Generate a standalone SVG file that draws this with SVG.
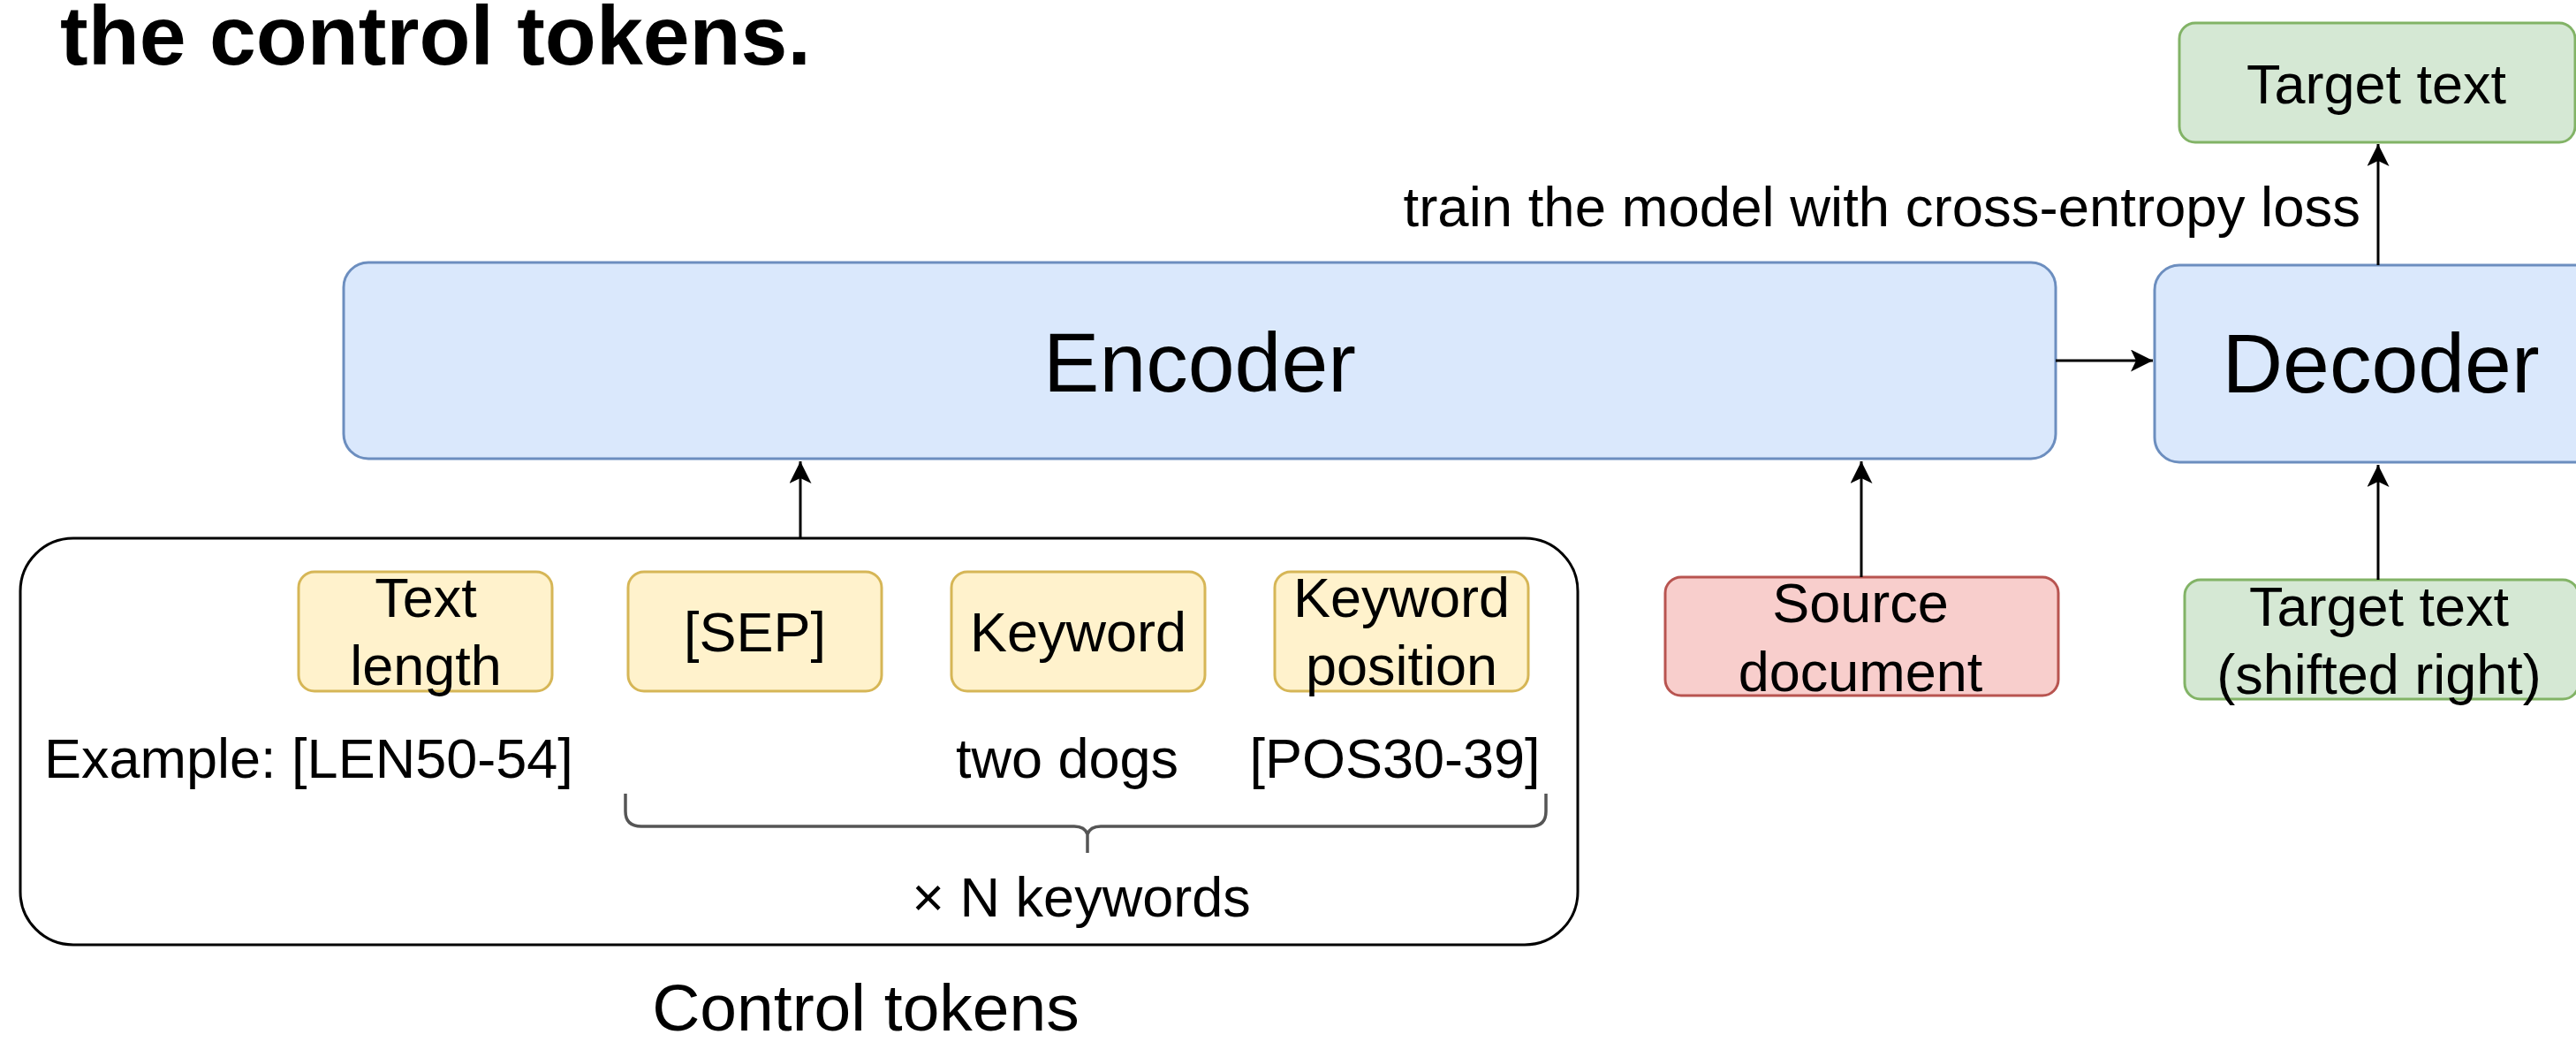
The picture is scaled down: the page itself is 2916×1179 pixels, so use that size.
<svg xmlns="http://www.w3.org/2000/svg" width="2916" height="1179" viewBox="0 0 2916 1179">
<style>
text{font-family:"Liberation Sans",Arial,Helvetica,sans-serif;fill:#000}
.t{font-size:63px;text-anchor:middle}
.big{font-size:95px;text-anchor:middle}
.blue{fill:#dae8fc;stroke:#6c8ebf;stroke-width:3}
.green{fill:#d5e8d4;stroke:#82b366;stroke-width:3}
.red{fill:#f8cecc;stroke:#b85450;stroke-width:3}
.yellow{fill:#fff2cc;stroke:#d6b656;stroke-width:3}
.conn{fill:none;stroke:#000;stroke-width:3}
</style>
<defs>
<marker id="arr" markerUnits="userSpaceOnUse" markerWidth="28" markerHeight="28" refX="25" refY="12.5" orient="auto" viewBox="0 0 28 28">
<path d="M0,0 L25,12.5 L0,25 L6,12.5 Z" fill="#000"/>
</marker>
</defs>
<rect width="2916" height="1179" fill="#fff"/>
<text x="68" y="73" style="font-size:95px;font-weight:bold">the control tokens.</text>

<g id="control-tokens">
<rect x="23" y="609" width="1763" height="460" rx="60" fill="none" stroke="#000" stroke-width="3"/>
<text x="980" y="1166" style="font-size:75px;text-anchor:middle">Control tokens</text>
<text x="50" y="880" style="font-size:63px">Example: [LEN50-54]</text>
<text class="t" x="1208" y="880">two dogs</text>
<text class="t" x="1579" y="880">[POS30-39]</text>
<path d="M708,898 V918 Q708,935 726,935 H1216 Q1228,935 1231,944 V965 M1231,944 Q1234,935 1246,935 H1733 Q1750,935 1750,918 V898" fill="none" stroke="#555" stroke-width="3.5"/>
<text class="t" x="1224" y="1037">× N keywords</text>
</g>
<g id="text-length">
<rect class="yellow" x="338" y="647" width="287" height="135" rx="18"/>
<text class="t" x="482" y="698">Text</text>
<text class="t" x="482" y="775">length</text>
</g>
<g id="sep">
<rect class="yellow" x="711" y="647" width="287" height="135" rx="18"/>
<text class="t" x="854.5" y="737">[SEP]</text>
</g>
<g id="keyword">
<rect class="yellow" x="1077" y="647" width="287" height="135" rx="18"/>
<text class="t" x="1220.5" y="737">Keyword</text>
</g>
<g id="keyword-position">
<rect class="yellow" x="1443" y="647" width="287" height="135" rx="18"/>
<text class="t" x="1586.5" y="698">Keyword</text>
<text class="t" x="1586.5" y="775">position</text>
</g>
<g id="encoder">
<rect class="blue" x="389" y="297" width="1938" height="222" rx="28"/>
<text class="big" x="1358" y="443">Encoder</text>
</g>
<g id="decoder">
<rect class="blue" x="2439" y="300" width="520" height="223" rx="28"/>
<text class="big" x="2695" y="444">Decoder</text>
</g>
<g id="target-text">
<rect class="green" x="2467" y="26" width="448" height="135" rx="18"/>
<text class="t" x="2690" y="117">Target text</text>
</g>
<g id="source-document">
<rect class="red" x="1885" y="653" width="445" height="134" rx="18"/>
<text class="t" x="2106" y="704">Source</text>
<text class="t" x="2106" y="782">document</text>
</g>
<g id="target-shifted">
<rect class="green" x="2473" y="656" width="446" height="135" rx="18"/>
<text class="t" x="2693" y="708">Target text</text>
<text class="t" x="2693" y="785">(shifted right)</text>
</g>

<g id="connectors">
<line class="conn" x1="906" y1="609" x2="906" y2="522" marker-end="url(#arr)"/>
<line class="conn" x1="2107" y1="653" x2="2107" y2="522" marker-end="url(#arr)"/>
<line class="conn" x1="2327" y1="408" x2="2437" y2="408" marker-end="url(#arr)"/>
<line class="conn" x1="2692" y1="656" x2="2692" y2="526" marker-end="url(#arr)"/>
<line class="conn" x1="2692" y1="300" x2="2692" y2="163" marker-end="url(#arr)"/>
<text x="2672" y="256" style="font-size:63.5px;text-anchor:end">train the model with cross-entropy loss</text>
</g>
</svg>
